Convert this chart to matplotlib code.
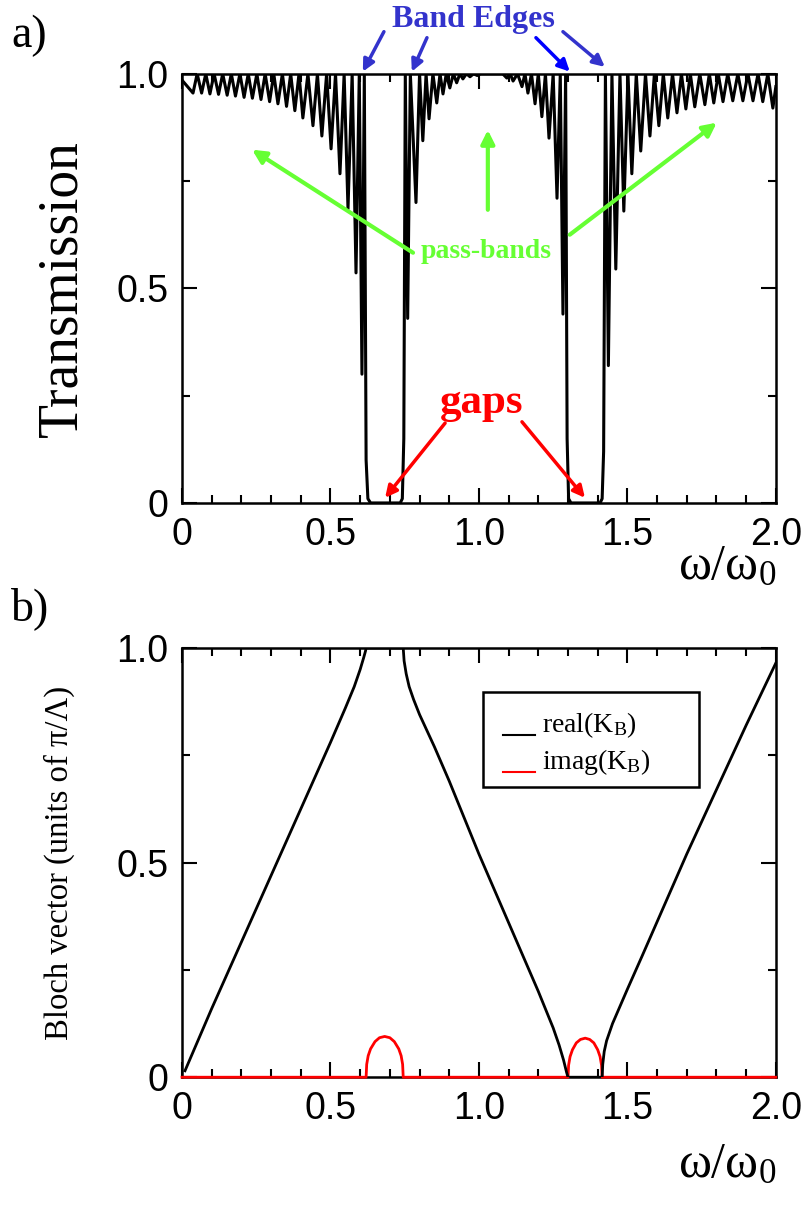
import numpy as np
import matplotlib.pyplot as plt
from matplotlib.ticker import MultipleLocator
from matplotlib.patches import Rectangle

'''
Transmission and Bloch vector of a 1D periodic stack
'''

plt.rcParams['mathtext.fontset'] = 'custom'
plt.rcParams['mathtext.rm'] = 'Liberation Serif'
plt.rcParams['mathtext.default'] = 'regular'

serif = 'Liberation Serif'
sans = 'Liberation Sans'

# Transmission curve (peaks and dips)
omega_T = [0.000, 0.037, 0.051, 0.066, 0.080, 0.094, 0.108, 0.123, 0.137, 0.152,
           0.166, 0.180, 0.195, 0.209, 0.223, 0.237, 0.252, 0.266, 0.280, 0.295,
           0.309, 0.323, 0.338, 0.352, 0.366, 0.380, 0.394, 0.407, 0.424, 0.441,
           0.456, 0.471, 0.487, 0.502, 0.517, 0.532, 0.546, 0.559, 0.573, 0.586,
           0.597, 0.606, 0.614, 0.620, 0.626, 0.635,
           0.735, 0.742, 0.747, 0.752, 0.760, 0.769, 0.788, 0.800, 0.811, 0.822,
           0.832, 0.845, 0.858, 0.869, 0.879, 0.890, 0.902, 0.914, 0.925, 0.936,
           0.946, 0.958, 0.970, 0.982, 0.994, 1.006, 1.080, 1.094, 1.105, 1.115,
           1.130, 1.145, 1.155, 1.165, 1.177, 1.189, 1.200, 1.212, 1.224, 1.236,
           1.250, 1.263, 1.274, 1.283, 1.292, 1.297, 1.302, 1.310,
           1.408, 1.415, 1.420, 1.426, 1.436, 1.448, 1.461, 1.475, 1.488, 1.502,
           1.515, 1.530, 1.545, 1.561, 1.576, 1.591, 1.606, 1.621, 1.636, 1.652,
           1.667, 1.682, 1.697, 1.712, 1.727, 1.744, 1.761, 1.776, 1.791, 1.806,
           1.822, 1.838, 1.855, 1.872, 1.889, 1.906, 1.923, 1.940, 1.956, 1.973,
           1.990, 2.000]
trans = [0.985, 0.955, 1.0, 0.955, 1.0, 0.953, 1.0, 0.952, 1.0, 0.950,
         1.0, 0.948, 1.0, 0.945, 1.0, 0.943, 1.0, 0.940, 1.0, 0.935,
         1.0, 0.930, 1.0, 0.924, 1.0, 0.914, 1.0, 0.897, 1.0, 0.879,
         1.0, 0.855, 1.0, 0.825, 1.0, 0.767, 1.0, 0.685, 1.0, 0.536,
         1.0, 0.300, 1.0, 0.100, 0.010, 0.0,
         0.0, 0.010, 0.150, 1.0, 0.430, 1.0, 0.700, 1.0, 0.844, 1.0,
         0.895, 1.0, 0.932, 1.0, 0.953, 1.0, 0.967, 1.0, 0.979, 1.0,
         0.988, 1.0, 0.993, 1.0, 0.996, 1.0, 1.0, 0.990, 1.0, 0.983,
         1.0, 0.970, 1.0, 0.955, 1.0, 0.930, 1.0, 0.900, 1.0, 0.850,
         1.0, 0.710, 1.0, 0.440, 1.0, 0.150, 0.010, 0.0,
         0.0, 0.010, 0.120, 1.0, 0.320, 1.0, 0.545, 1.0, 0.680, 1.0,
         0.767, 1.0, 0.820, 1.0, 0.855, 1.0, 0.879, 1.0, 0.897, 1.0,
         0.909, 1.0, 0.918, 1.0, 0.923, 1.0, 0.928, 1.0, 0.932, 1.0,
         0.935, 1.0, 0.937, 1.0, 0.937, 1.0, 0.937, 1.0, 0.935, 1.0,
         0.920, 0.970]

# Real part of Bloch vector (units of pi/Lambda)
omega_re = [0.010, 0.100, 0.200, 0.300, 0.400, 0.500, 0.550, 0.580, 0.600, 0.612,
            0.618, 0.620, 0.745, 0.748, 0.755, 0.765, 0.780, 0.800, 0.850, 0.900,
            0.950, 1.000, 1.050, 1.100, 1.150, 1.200, 1.250, 1.270, 1.285, 1.295,
            1.300, 1.415, 1.417, 1.422, 1.430, 1.450, 1.500, 1.550, 1.600, 1.700,
            1.800, 1.900, 2.000]
k_real = [0.015, 0.160, 0.315, 0.470, 0.625, 0.780, 0.860, 0.910, 0.950, 0.978,
          0.993, 1.000, 1.000, 0.970, 0.940, 0.910, 0.880, 0.845, 0.770, 0.690,
          0.605, 0.520, 0.440, 0.360, 0.280, 0.200, 0.115, 0.075, 0.040, 0.012,
          0.000, 0.000, 0.030, 0.060, 0.085, 0.125, 0.205, 0.283, 0.362, 0.520,
          0.670, 0.820, 0.965]

# Imaginary part of Bloch vector
omega_im = [0.000, 0.620, 0.622, 0.627, 0.635, 0.650, 0.665, 0.6825, 0.700, 0.715,
            0.730, 0.738, 0.743, 0.745, 1.300, 1.302, 1.307, 1.315, 1.328, 1.342,
            1.358, 1.373, 1.387, 1.400, 1.408, 1.413, 1.415, 2.000]
k_imag = [0.0, 0.0, 0.030, 0.050, 0.066, 0.083, 0.092, 0.095, 0.092, 0.083,
          0.066, 0.050, 0.030, 0.0, 0.0, 0.028, 0.048, 0.064, 0.080, 0.088,
          0.091, 0.088, 0.080, 0.064, 0.048, 0.028, 0.0, 0.0]

x_ticks = [0, 0.5, 1.0, 1.5, 2.0]
x_tick_labels = ['0', '0.5', '1.0', '1.5', '2.0']
y_ticks = [0, 0.5, 1.0]
y_tick_labels = ['0', '0.5', '1.0']


def style_axes(ax, xlabel_y):
    ax.set_xlim(0, 2)
    ax.set_ylim(0, 1)
    ax.set_xticks(x_ticks)
    ax.set_xticklabels(x_tick_labels, fontfamily=sans, fontsize=27)
    ax.set_yticks(y_ticks)
    ax.set_yticklabels(y_tick_labels, fontfamily=sans, fontsize=27)
    ax.xaxis.set_minor_locator(MultipleLocator(0.1))
    ax.yaxis.set_minor_locator(MultipleLocator(0.25))
    ax.tick_params(which='both', direction='in', top=True, right=True, width=1.5)
    ax.tick_params(which='major', length=11, pad=10)
    ax.tick_params(which='minor', length=6)
    for s in ax.spines.values():
        s.set_linewidth(1.8)
    ax.set_xlabel(r'ω/ω$_0$', fontfamily=serif, fontsize=36)
    ax.xaxis.set_label_coords(1.0, xlabel_y)
    ax.xaxis.label.set_horizontalalignment('right')


fig = plt.figure(figsize=(8.09, 12.09), dpi=100)

'''
a) Transmission
'''
ax1 = fig.add_axes([0.225, 0.584, 0.734, 0.355])
ax1.plot(omega_T, trans, color='black', lw=2.2)
style_axes(ax1, -0.095)
ax1.set_ylabel('Transmission', fontfamily=serif, fontsize=40)
ax1.yaxis.set_label_coords(-0.157, 0.5)

blue = '#3333cc'
ax1.text(0.98, 1.126, 'Band Edges', color=blue, fontfamily=serif, fontweight='bold',
         fontsize=23, ha='center', va='center')
edge_arrows = [((0.680, 1.098), (0.609, 1.005), blue),
               ((0.825, 1.084), (0.774, 1.005), blue),
               ((1.192, 1.084), (1.306, 1.005), '#0000ff'),
               ((1.283, 1.098), (1.424, 1.016), blue)]
for start, end, c in edge_arrows:
    ax1.annotate('', xy=end, xytext=start, annotation_clip=False,
                 arrowprops=dict(arrowstyle='-|>,head_length=0.7,head_width=0.35',
                                 color=c, lw=2.5, shrinkA=0, shrinkB=0))

green = '#66ff33'
ax1.text(1.024, 0.587, 'pass-bands', color=green, fontfamily=serif, fontweight='bold',
         fontsize=20, ha='center', va='center')
pass_arrows = [((0.778, 0.583), (0.236, 0.823)),
               ((1.030, 0.683), (1.030, 0.869)),
               ((1.306, 0.625), (1.801, 0.886))]
for start, end in pass_arrows:
    ax1.annotate('', xy=end, xytext=start,
                 arrowprops=dict(arrowstyle='-|>,head_length=0.8,head_width=0.4',
                                 color=green, lw=3, shrinkA=0, shrinkB=0))

ax1.text(1.01, 0.233, 'gaps', color='red', fontfamily=serif, fontweight='bold',
         fontsize=31, ha='center', va='center')
gap_arrows = [((0.886, 0.186), (0.684, 0.012)),
              ((1.145, 0.189), (1.357, 0.012))]
for start, end in gap_arrows:
    ax1.annotate('', xy=end, xytext=start,
                 arrowprops=dict(arrowstyle='-|>,head_length=0.7,head_width=0.35',
                                 color='red', lw=2.5, shrinkA=0, shrinkB=0))

fig.text(0.014, 0.97, 'a)', fontfamily=serif, fontsize=33, va='center')

'''
b) Bloch vector
'''
ax2 = fig.add_axes([0.225, 0.109, 0.734, 0.355])
ax2.plot(omega_re, k_real, color='black', lw=2, zorder=4)
ax2.plot(omega_im, k_imag, color='red', lw=2, zorder=3, clip_on=False)
style_axes(ax2, -0.15)
ax2.set_ylabel('Bloch vector (units of π/Λ)', fontfamily=serif, fontsize=23.5)
ax2.yaxis.set_label_coords(-0.18, 0.5)

# Legend box drawn by hand
ax2.add_patch(Rectangle((0.507, 0.676), 0.364, 0.221, transform=ax2.transAxes,
                        fill=False, lw=1.8, edgecolor='black'))
ax2.plot([0.540, 0.594], [0.797, 0.797], color='black', lw=1.5, transform=ax2.transAxes)
ax2.plot([0.540, 0.594], [0.711, 0.711], color='red', lw=1.5, transform=ax2.transAxes)
ax2.text(0.607, 0.821, r'real(K$_B$)', fontfamily=serif, fontsize=20,
         va='center', transform=ax2.transAxes)
ax2.text(0.607, 0.734, r'imag(K$_B$)', fontfamily=serif, fontsize=20,
         va='center', transform=ax2.transAxes)

fig.text(0.014, 0.497, 'b)', fontfamily=serif, fontsize=33, va='center')

plt.savefig('out.png', dpi=100)
